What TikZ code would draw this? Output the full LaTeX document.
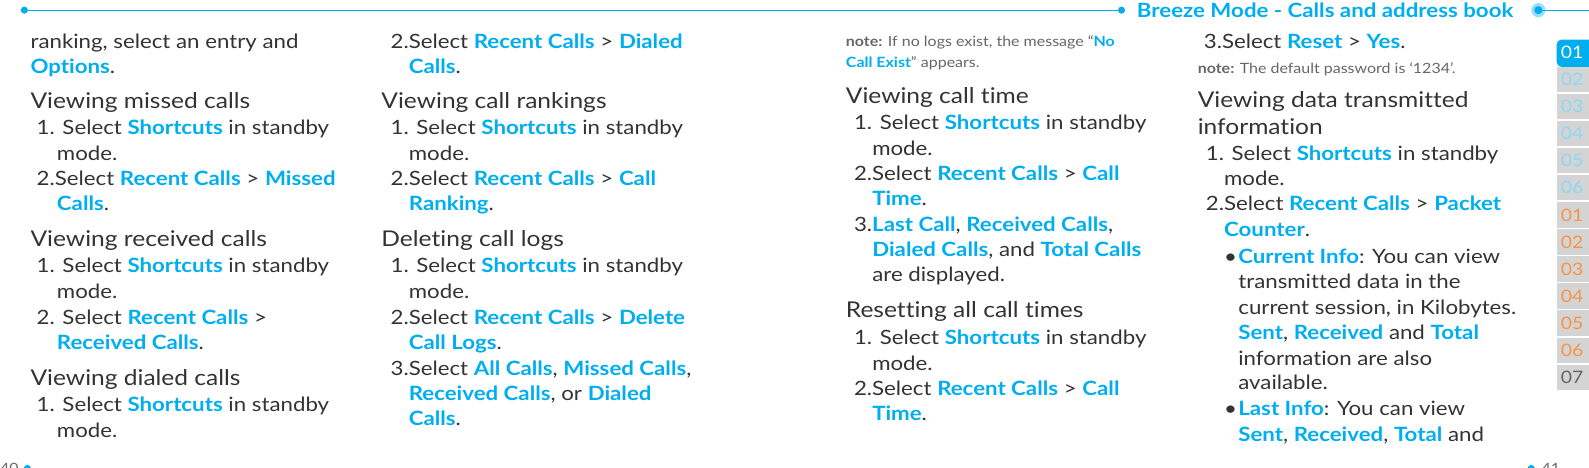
\documentclass[tikz,border=0pt]{standalone}
\usepackage{fontspec}
\setmainfont{Lato}[FakeStretch=1.13,Ligatures={NoCommon}]
\definecolor{bz}{HTML}{00AEEF}
\definecolor{tx}{HTML}{333333}
\definecolor{nt}{HTML}{666666}
\definecolor{tb}{HTML}{D4D4D4}
\definecolor{lb}{HTML}{8CD8F5}
\definecolor{or}{HTML}{F7944A}
\newcommand{\B}[1]{{\color{bz}\bfseries #1}}
\newcommand{\tl}[3]{\node[txt] at (#1,#2) {#3};}
\newcommand{\hd}[3]{\node[txt,font=\fontsize{21.5}{24}\selectfont] at (#1,#2) {#3};}
\newcommand{\nl}[3]{\node[txt,font=\fontsize{14}{16}\selectfont,text=nt] at (#1,#2) {#3};}
\begin{document}
\begin{tikzpicture}[x=1bp,y=-1bp,
 txt/.style={anchor=base west,inner sep=0pt,text=tx,font=\fontsize{19.5}{22}\selectfont},
 tab/.style={fill=tb,minimum width=54bp,minimum height=25bp,inner sep=0pt,anchor=north west,font=\fontsize{17}{18}\selectfont,text width=46bp,align=left}]
% top rule
\draw[bz,line width=1.2pt] (24,10) -- (1108,10);
\fill[bz] (24,10) circle (3.5);
\fill[bz] (1106,10) circle (3.5);
\node[anchor=base west,inner sep=0,text=bz,font=\fontsize{19.5}{22}\selectfont\bfseries] (title) at (1121,17) {Breeze Mode - Calls and address book};
\fill[bz!40] (1517,10) circle (7);
\fill[bz] (1517,10) circle (4);
\draw[bz,line width=1.2pt] (1517,10) -- (1589,10);
% bottom rule
\node[anchor=base west,inner sep=0,text=nt,font=\fontsize{14}{15}\selectfont] (p40) at (0,467) {40};
\node[anchor=base west,inner sep=0,text=nt,font=\fontsize{14}{15}\selectfont] (p41) at (1520,467) {41};
\draw[bz,line width=1.2pt] (27,462) -- (1510,462);
\fill[bz] (27,462) circle (3.5);
\fill[bz] (1510,462) circle (3.5);
% tabs
\foreach \i/\t/\c in {1/02/lb,2/03/lb,3/04/lb,4/05/lb,5/06/lb,6/01/or,7/02/or,8/03/or,9/04/or,10/05/or,11/06/or,12/07/nt}{
 \node[tab,text=\c] (t\i) at (1535,{39+26.7*\i}) {\t};}
\fill[bz,rounded corners=5pt] (1535,66) -- (1535,39) -- (1589,39) -- (1589,66) -- cycle;
\node[tab,fill=none,text=white] (t0) at (1535,39) {01};
% column 1
\tl{30}{48}{ranking, select an entry and}
\tl{30}{72}{\B{Options}.}
\hd{30}{107}{Viewing missed calls}
\tl{36}{133}{1. Select \B{Shortcuts} in standby}
\tl{56}{158}{mode.}
\tl{36}{183}{2.Select \B{Recent Calls} > \B{Missed}}
\tl{56}{208}{\B{Calls}.}
\hd{30}{243}{Viewing received calls}
\tl{36}{269}{1. Select \B{Shortcuts} in standby}
\tl{56}{294}{mode.}
\tl{36}{320}{2. Select \B{Recent Calls} >}
\tl{56}{345}{\B{Received Calls}.}
\hd{30}{380}{Viewing dialed calls}
\tl{36}{406}{1. Select \B{Shortcuts} in standby}
\tl{56}{431}{mode.}
% column 2
\tl{385}{48}{2.Select \B{Recent Calls} > \B{Dialed}}
\tl{403}{72}{\B{Calls}.}
\hd{376}{107}{Viewing call rankings}
\tl{385}{133}{1. Select \B{Shortcuts} in standby}
\tl{403}{158}{mode.}
\tl{385}{183}{2.Select \B{Recent Calls} > \B{Call}}
\tl{403}{208}{\B{Ranking}.}
\hd{376}{243}{Deleting call logs}
\tl{385}{269}{1. Select \B{Shortcuts} in standby}
\tl{403}{294}{mode.}
\tl{385}{320}{2.Select \B{Recent Calls} > \B{Delete}}
\tl{403}{345}{\B{Call Logs}.}
\tl{385}{370}{3.Select \B{All Calls}, \B{Missed Calls},}
\tl{403}{395}{\B{Received Calls}, or \B{Dialed}}
\tl{403}{420}{\B{Calls}.}
% column 3
\nl{834}{46}{\textbf{note:} If no logs exist, the message ``\B{No}}
\nl{834}{67}{\B{Call Exist}'' appears.}
\hd{834}{102}{Viewing call time}
\tl{842}{128}{1. Select \B{Shortcuts} in standby}
\tl{860}{153}{mode.}
\tl{842}{178}{2.Select \B{Recent Calls} > \B{Call}}
\tl{860}{203}{\B{Time}.}
\tl{842}{228}{3.\B{Last Call}, \B{Received Calls},}
\tl{860}{253}{\B{Dialed Calls}, and \B{Total Calls}}
\tl{860}{278}{are displayed.}
\hd{834}{313}{Resetting all call times}
\tl{842}{340}{1. Select \B{Shortcuts} in standby}
\tl{860}{365}{mode.}
\tl{842}{390}{2.Select \B{Recent Calls} > \B{Call}}
\tl{860}{415}{\B{Time}.}
% column 4
\tl{1187}{48}{3.Select \B{Reset} > \B{Yes}.}
\nl{1181}{72}{\textbf{note:} The default password is `1234'.}
\hd{1181}{106}{Viewing data transmitted}
\hd{1181}{133}{information}
\tl{1189}{158}{1. Select \B{Shortcuts} in standby}
\tl{1207}{183}{mode.}
\tl{1189}{208}{2.Select \B{Recent Calls} > \B{Packet}}
\tl{1207}{233}{\B{Counter}.}
\tl{1207}{260}{•}
\tl{1221}{260}{\B{Current Info}: You can view}
\tl{1221}{285}{transmitted data in the}
\tl{1221}{310}{current session, in Kilobytes.}
\tl{1221}{335}{\B{Sent}, \B{Received} and \B{Total}}
\tl{1221}{360}{information are also}
\tl{1221}{384}{available.}
\tl{1207}{410}{•}
\tl{1221}{410}{\B{Last Info}: You can view}
\tl{1221}{435}{\B{Sent}, \B{Received}, \B{Total} and}
\pgfresetboundingbox
\useasboundingbox (0,0) rectangle (1567,461);
\end{tikzpicture}
\end{document}
